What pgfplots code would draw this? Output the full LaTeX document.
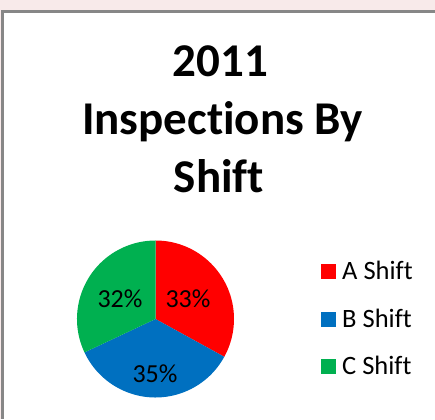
\documentclass[border=0pt]{standalone}
\usepackage{fontspec}
% Calibri in the original sets "ti" and "ft" without ligatures
\setmainfont{Carlito}[Ligatures={NoCommon}]
\usepackage{pgfplots}
\usepackage{pgfplotstable}
\pgfplotsset{compat=1.18}

\definecolor{cA}{HTML}{FF0000}
\definecolor{cB}{HTML}{0070C0}
\definecolor{cC}{HTML}{00B050}
\definecolor{frame}{HTML}{878787}
\definecolor{pinkbg}{HTML}{F8EAEA}

% share of inspections per shift, in per cent
\pgfplotstableread{
shift share
A 33
B 35
C 32
}\shares

\begin{document}
\begin{tikzpicture}
% the slices run clockwise from twelve o'clock, 3.6 degrees per per cent
\pgfplotstablegetelem{0}{share}\of\shares \let\sA\pgfplotsretval
\pgfplotstablegetelem{1}{share}\of\shares \let\sB\pgfplotsretval
\pgfplotstablegetelem{2}{share}\of\shares \let\sC\pgfplotsretval
\pgfmathsetmacro\aS{90}
\pgfmathsetmacro\aE{\aS-3.6*\sA}
\pgfmathsetmacro\bE{\aE-3.6*\sB}
\pgfmathsetmacro\cE{\bE-3.6*\sC}
\begin{axis}[
  % one axis unit = 1pt, so the whole 435 x 419 frame is laid out in axis cs
  x=1pt, y=1pt, xmin=0, xmax=435, ymin=0, ymax=419,
  hide axis, clip=false,
  legend image code/.code={\fill[#1] (0pt,-7.5pt) rectangle (15pt,7.5pt);},
  legend style={at={(axis cs:321,155.75)}, anchor=north west,
    draw=none, fill=none, inner sep=0pt, row sep=31pt, column sep=6pt,
    font=\fontsize{26.5}{31}\selectfont,
    nodes={inner sep=0pt, text height=16.5pt, text depth=0pt, anchor=west}},
  legend cell align=left,
  ]
  % chart frame: pale strip above, grey edge top and left
  \fill[pinkbg] (axis cs:0,409) rectangle (axis cs:435,419);
  \fill[pinkbg] (axis cs:0,0) rectangle (axis cs:1,409);
  \fill[frame] (axis cs:1,406) rectangle (axis cs:435,409);
  \fill[frame] (axis cs:1,0) rectangle (axis cs:4,409);

  \fill[cA] (axis cs:155.5,100) -- +(\aS:78.5pt) arc[start angle=\aS, end angle=\aE, radius=78.5pt] -- cycle;
  \fill[cB] (axis cs:155.5,100) -- +(\aE:78.5pt) arc[start angle=\aE, end angle=\bE, radius=78.5pt] -- cycle;
  \fill[cC] (axis cs:155.5,100) -- +(\bE:78.5pt) arc[start angle=\bE, end angle=\cE, radius=78.5pt] -- cycle;

  \begin{scope}[font=\fontsize{26}{30}\selectfont]
    \node[anchor=base] at (axis cs:188,111.3) {\sA\%};
    \node[anchor=base] at (axis cs:155,36.3) {\sB\%};
    \node[anchor=base] at (axis cs:120,111.3) {\sC\%};
  \end{scope}

  \begin{scope}[font=\bfseries\fontsize{47}{58}\selectfont]
    \node[anchor=base] at (axis cs:220.5,342) {2011};
    \node[anchor=base] at (axis cs:222.5,284.5) {Inspections By};
    \node[anchor=base] at (axis cs:219,226) {Shift};
  \end{scope}

  \addlegendimage{fill=cA, draw=none}
  \addlegendentry{A Shift}
  \addlegendimage{fill=cB, draw=none}
  \addlegendentry{B Shift}
  \addlegendimage{fill=cC, draw=none}
  \addlegendentry{C Shift}
\end{axis}
\path (0pt,0pt) rectangle (435pt,419pt);
\end{tikzpicture}
\end{document}
